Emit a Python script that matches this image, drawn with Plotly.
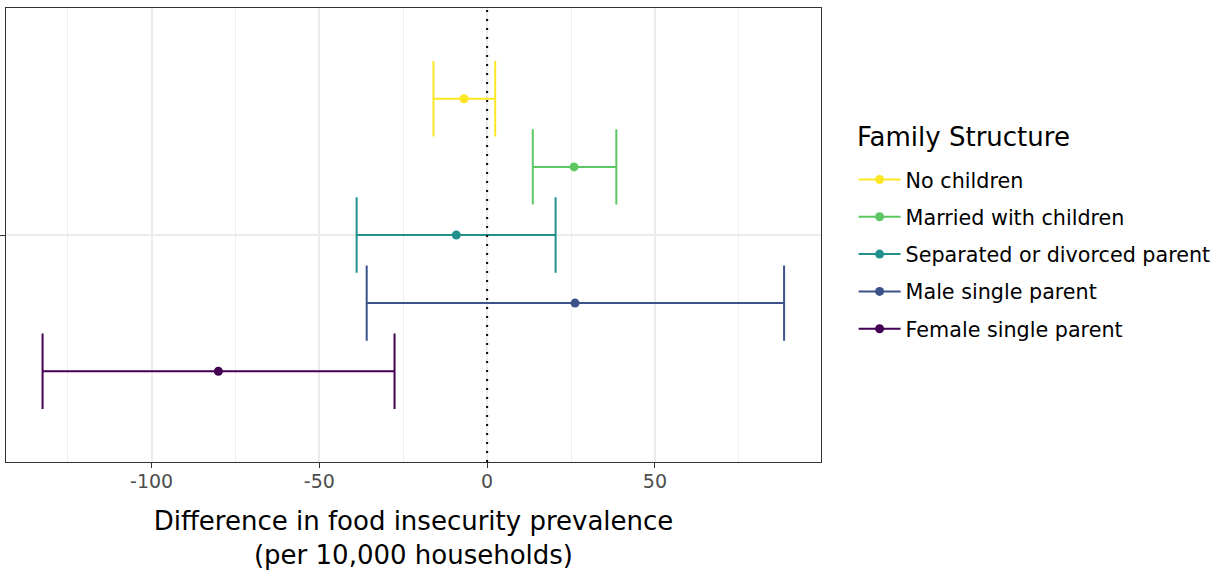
import plotly.graph_objects as go

# ---- data ----
groups = ["No children", "Married with children", "Separated or divorced parent",
          "Male single parent", "Female single parent"]
estimate = [-6.9, 25.9, -9.2, 26.2, -80.1]
lower = [-16.0, 13.6, -38.9, -35.9, -132.5]
upper = [2.4, 38.5, 20.4, 88.5, -27.6]
colors = ["#FDE725", "#5DC863", "#21908C", "#3B528B", "#440154"]
x_ticks = [-100, -50, 0, 50]
REF_X = 0
legend_title = "Family Structure"

# ---- dodge positions (single discrete category at y=1) ----
n = len(groups)
dodge_width = 0.9
category_y = 1.0
ypos = [category_y + ((n - 1 - i) - (n - 1) / 2) * dodge_width / n for i in range(n)]

FONT = "DejaVu Sans"
fig = go.Figure()
for i, g in enumerate(groups):
    fig.add_trace(go.Scatter(
        x=[estimate[i]], y=[ypos[i]],
        mode="lines+markers",
        name=g, legendgroup=g,
        marker=dict(color=colors[i], size=9),
        line=dict(color=colors[i], width=2),
        error_x=dict(type="data", symmetric=False,
                     array=[upper[i] - estimate[i]],
                     arrayminus=[estimate[i] - lower[i]],
                     color=colors[i], thickness=2, width=37.7),
        showlegend=True,
    ))

fig.add_vline(x=REF_X, line=dict(color="black", width=2, dash="2px,7px"), layer="above")

fig.add_annotation(
    text=legend_title, xref="paper", yref="paper",
    x=1.042, y=0.716, xanchor="left", yanchor="middle",
    showarrow=False, font=dict(size=26, color="black", family=FONT),
)

fig.update_layout(
    width=1225, height=570,
    margin=dict(l=6, r=404, t=8, b=108),
    paper_bgcolor="white", plot_bgcolor="white",
    font=dict(family=FONT, color="black"),
    legend=dict(
        font=dict(size=20.7, color="black"),
        x=1.040, xanchor="left", y=0.457, yanchor="middle",
        tracegroupgap=7.4, itemwidth=42,
    ),
    xaxis=dict(
        range=[-143.4, 99.5],
        tickvals=x_ticks, ticktext=[str(v) for v in x_ticks],
        tickfont=dict(size=19, color="#4D4D4D"),
        ticks="outside", ticklen=5, tickcolor="#333333",
        ticklabelstandoff=-3,
        showgrid=True, gridcolor="#EBEBEB", gridwidth=1.6,
        minor=dict(dtick=50, tick0=25, showgrid=True, gridcolor="#F0F0F0", gridwidth=1),
        zeroline=False, automargin=False,
        showline=True, linecolor="#333333", linewidth=1, mirror=True,
        title=dict(text="Difference in food insecurity prevalence<br>(per 10,000 households)",
                   font=dict(size=26, color="black"), standoff=26),
    ),
    yaxis=dict(
        range=[0.4, 1.6],
        tickvals=[category_y], ticktext=[""],
        ticks="outside", ticklen=5, tickcolor="#333333",
        showgrid=True, gridcolor="#EBEBEB", gridwidth=1.6,
        zeroline=False, automargin=False,
        showline=True, linecolor="#333333", linewidth=1, mirror=True,
    ),
)

fig.write_html("out.html")
